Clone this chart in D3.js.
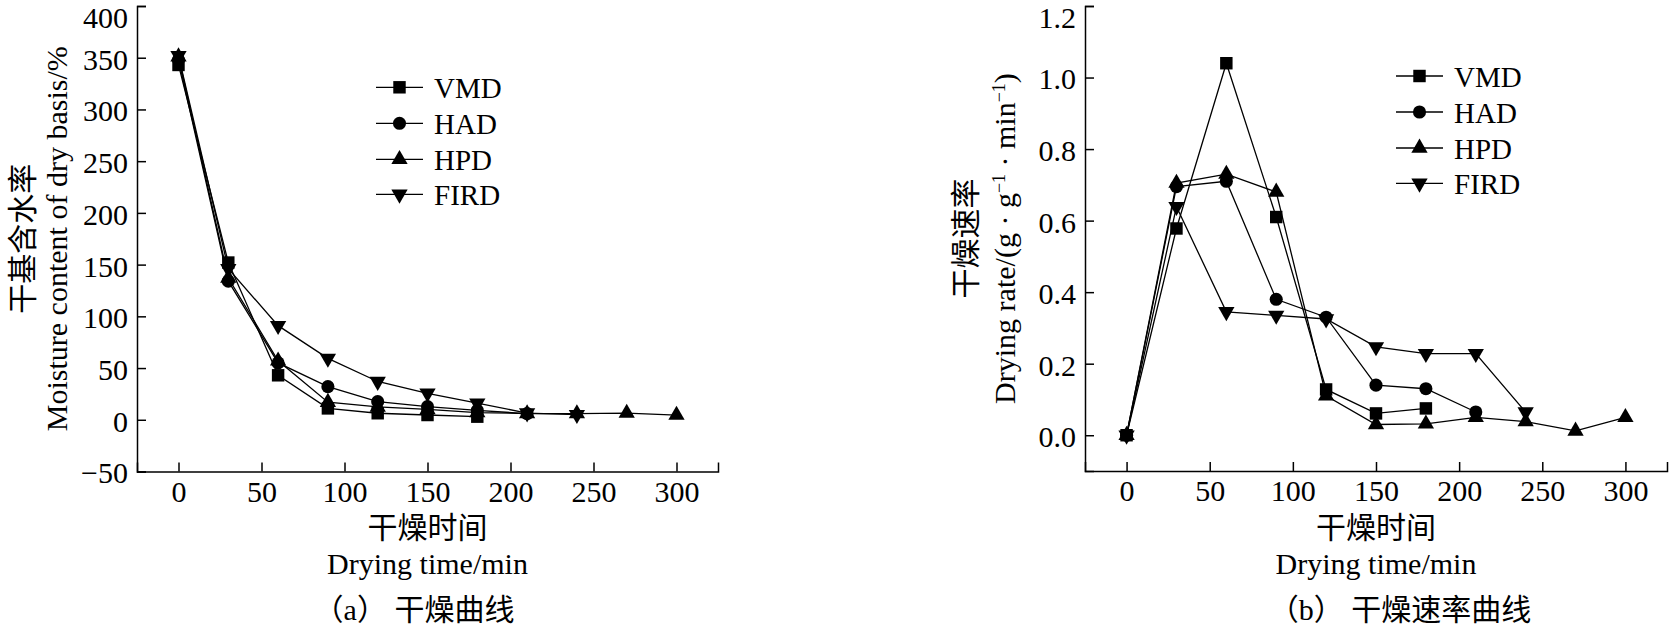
<!DOCTYPE html>
<html><head><meta charset="utf-8">
<script src="https://cdn.jsdelivr.net/npm/d3@7"></script>
<style>
body{margin:0;background:#fff}
svg{display:block}
text{font-family:"Liberation Serif","Noto Sans CJK SC",serif;fill:#000}
</style>
</head><body>
<svg id="c" width="1671" height="625"></svg>
<script>
// ---- data ----
const times = [0, 30, 60, 90, 120, 150, 180, 210, 240, 270, 300];
const seriesNames = ["VMD", "HAD", "HPD", "FIRD"];
const seriesSymbols = ["square", "circle", "triangle", "down"];

const moistVMD  = [343, 152, 43, 11, 6.3, 4.6, 3];
const moistHAD  = [348, 134, 55, 32, 17.5, 12.7, 9, 6];
const moistHPD  = [351, 137, 57, 17, 12.4, 10, 7, 6, 6, 6.5, 4.5];
const moistFIRD = [352, 146, 91, 59.4, 37, 25.6, 16, 6.5, 5];

const rateVMD  = [0, 0.578, 1.04, 0.61, 0.128, 0.061, 0.075];
const rateHAD  = [0, 0.695, 0.71, 0.38, 0.33, 0.14, 0.13, 0.065];
const rateHPD  = [0, 0.705, 0.73, 0.68, 0.11, 0.03, 0.032, 0.05, 0.038, 0.012, 0.05];
const rateFIRD = [0, 0.639, 0.345, 0.335, 0.325, 0.247, 0.228, 0.228, 0.065];

const xTickVals = [0, 50, 100, 150, 200, 250, 300];
const moistTicks = [-50, 0, 50, 100, 150, 200, 250, 300, 350, 400];
const rateTicks = [0, 0.2, 0.4, 0.6, 0.8, 1.0, 1.2];

const svg = d3.select("#c");

function symPath(kind) {
  if (kind === "square") return d3.symbol(d3.symbolSquare, 155)();
  if (kind === "circle") return d3.symbol(d3.symbolCircle, 135)();
  return d3.symbol(d3.symbolTriangle, 115)();
}
function drawMarker(g, kind, x, y) {
  g.append("path").attr("d", symPath(kind))
    .attr("transform", `translate(${x},${y})` + (kind === "down" ? " rotate(180)" : ""))
    .attr("fill", "#000");
}

function panel(cfg) {
  const x = d3.scaleLinear().domain([-25, 325]).range(cfg.xRange);
  const y = d3.scaleLinear().domain(cfg.yDomain).range(cfg.yRange);
  const g = svg.append("g");

  const xAxis = d3.axisBottom(x).tickValues(xTickVals).tickSize(-9).tickSizeOuter(-9).tickPadding(9);
  const yAxis = d3.axisLeft(y).tickValues(cfg.yTicks).tickSize(-9).tickSizeOuter(-9).tickPadding(9)
    .tickFormat(cfg.fmt);
  const gx = g.append("g").attr("transform", `translate(0,${cfg.yRange[0]})`).call(xAxis);
  const gy = g.append("g").attr("transform", `translate(${cfg.xRange[0]},0)`).call(yAxis);
  [gx, gy].forEach(a => {
    a.selectAll("path,line").attr("stroke", "#000").attr("stroke-width", 1.5);
    a.selectAll("text").attr("font-size", 30).attr("font-family", "Liberation Serif");
  });
  const topTick = d3.max(cfg.yTicks);
  gy.selectAll(".tick text").attr("dy", d => d === topTick ? "0.72em" : "0.38em");

  const line = d3.line().x((d, i) => x(times[i])).y(d => y(d));
  cfg.data.forEach((vals, s) => {
    g.append("path").datum(vals).attr("d", line)
      .attr("fill", "none").attr("stroke", "#000").attr("stroke-width", 1.3);
  });
  cfg.data.forEach((vals, s) => {
    vals.forEach((v, i) => drawMarker(g, seriesSymbols[s], x(times[i]), y(v)));
  });

  // legend
  seriesNames.forEach((name, s) => {
    const ly = cfg.legY[s];
    g.append("line").attr("x1", cfg.legX).attr("x2", cfg.legX + 47)
      .attr("y1", ly).attr("y2", ly).attr("stroke", "#000").attr("stroke-width", 1.3);
    drawMarker(g, seriesSymbols[s], cfg.legX + 23.5, ly);
    g.append("text").attr("x", cfg.legX + 58).attr("y", ly + 10.5)
      .attr("font-size", 29).text(name);
  });

  // axis titles
  const cx = (cfg.xRange[0] + cfg.xRange[1]) / 2;
  const cy = (cfg.yRange[0] + cfg.yRange[1]) / 2;
  g.append("text").attr("x", cx).attr("y", 538).attr("text-anchor", "middle")
    .attr("font-size", 30).attr("font-family", "Noto Sans CJK SC").text("干燥时间");
  g.append("text").attr("x", cx).attr("y", 574).attr("text-anchor", "middle")
    .attr("font-size", 30).text("Drying time/min");
  g.append("text").attr("x", cfg.capX).attr("y", 620).attr("text-anchor", "middle")
    .attr("font-size", 30).attr("font-family", "Noto Sans CJK SC").text(cfg.caption);

  g.append("text").attr("transform", `translate(${cfg.zhX},${cy}) rotate(-90)`)
    .attr("text-anchor", "middle").attr("font-size", 30).attr("font-family", "Noto Sans CJK SC")
    .text(cfg.zhTitle);
  const en = g.append("text").attr("transform", `translate(${cfg.enX},${cy}) rotate(-90)`)
    .attr("text-anchor", "middle").attr("font-size", 30);
  cfg.enTitle.forEach(part => {
    const t = en.append("tspan").text(part.t);
    if (part.sup) t.attr("baseline-shift", "super").attr("font-size", 18);
  });
}

panel({
  xRange: [137, 718], yDomain: [-50, 400], yRange: [471.5, 6], yTicks: moistTicks,
  fmt: d3.format("d"),
  data: [moistVMD, moistHAD, moistHPD, moistFIRD],
  legX: 376, legY: [87.3, 123.3, 159.3, 194.3],
  caption: "（a） 干燥曲线", capX: 414,
  zhTitle: "干基含水率", zhX: 33,
  enTitle: [{t: "Moisture content of dry basis/%"}], enX: 67
});

panel({
  xRange: [1085, 1667], yDomain: [-0.1, 1.2], yRange: [471, 6], yTicks: rateTicks,
  fmt: d3.format(".1f"),
  data: [rateVMD, rateHAD, rateHPD, rateFIRD],
  legX: 1396, legY: [76, 112, 148, 183.3],
  caption: "（b） 干燥速率曲线", capX: 1400,
  zhTitle: "干燥速率", zhX: 976,
  enTitle: [{t: "Drying rate/(g · g"}, {t: "−1", sup: true}, {t: " · min"}, {t: "−1", sup: true}, {t: ")"}], enX: 1015
});
</script>
</body></html>
